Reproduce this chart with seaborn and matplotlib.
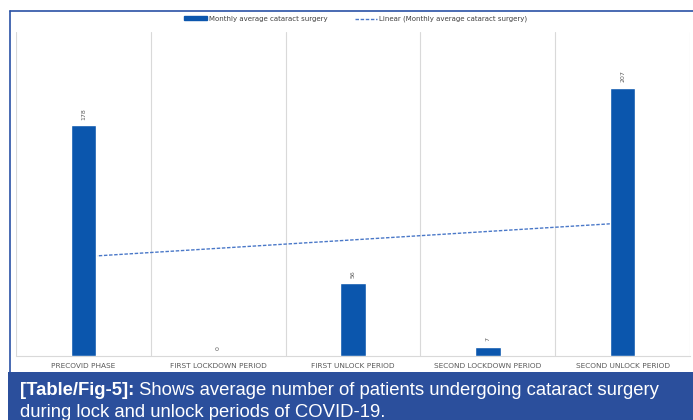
import numpy as np
import pandas as pd
import matplotlib
matplotlib.use("Agg")
import matplotlib.pyplot as plt
from matplotlib.patches import Patch, Rectangle
from matplotlib.lines import Line2D
import seaborn as sns

categories = ["PRECOVID PHASE", "FIRST LOCKDOWN PERIOD", "FIRST UNLOCK PERIOD",
              "SECOND LOCKDOWN PERIOD", "SECOND UNLOCK PERIOD"]
values = [178, 0, 56, 7, 207]
series_name = "Monthly average cataract surgery"
trend_name = "Linear (Monthly average cataract surgery)"
caption_bold = "[Table/Fig-5]:"
caption_rest = " Shows average number of patients undergoing cataract surgery"
caption_line2 = "during lock and unlock periods of COVID-19."

BAR = "#0b56ad"
TREND = "#4a78c8"
FRAME = "#2a52a5"
BOX = "#2b4f9c"
GREY = "#595959"

sns.set_theme(style="white")
plt.rcParams["font.family"] = ["DejaVu Sans"]

W, H = 693, 420
fig = plt.figure(figsize=(W / 100, H / 100), dpi=100)

def fx(px):
    return px / W

def fy(py):
    return 1 - py / H

ax = fig.add_axes([fx(16), fy(356), fx(690) - fx(16), fy(32) - fy(356)])
df = pd.DataFrame({"cat": categories, "val": values})
sns.barplot(data=df, x="cat", y="val", color=BAR, width=0.19, saturation=1,
            ax=ax, zorder=3)
for c in ax.containers:
    ax.bar_label(c, labels=[str(v) for v in values], rotation=90, padding=4,
                 fontsize=4.5, color=GREY)

pos = np.arange(len(values))
coef = np.polyfit(pos, values, 1)
ax.plot(pos, np.polyval(coef, pos), color=TREND, lw=1.0, ls=(0, (2.5, 1.2)), zorder=2)

ax.set_xlim(-0.5, len(values) - 0.5)
ax.set_ylim(0, 250)
ax.set_yticks([])
ax.set_xticks(np.arange(-0.5, len(values), 1), minor=True)
ax.grid(which="minor", axis="x", color="#d9d9d9", lw=0.8)
ax.tick_params(axis="x", which="both", length=0, pad=5)
ax.set_xticks(pos)
ax.set_xticklabels(categories, fontsize=5.3, color=GREY)
ax.set_xlabel("")
ax.set_ylabel("")
for s in ["top", "left", "right"]:
    ax.spines[s].set_visible(False)
ax.spines["bottom"].set_color("#d9d9d9")
ax.spines["bottom"].set_linewidth(0.8)

handles = [Patch(facecolor=BAR, edgecolor=BAR),
           Line2D([0], [0], color=TREND, lw=1.0, ls=(0, (2.5, 1.2)))]
fig.legend(handles, [series_name, trend_name], loc="center",
           bbox_to_anchor=(fx(356), fy(19)), ncol=2, frameon=False,
           fontsize=5, labelcolor="#404040", handlelength=3.2, handleheight=0.5,
           columnspacing=4, handletextpad=0.3)

# outer frame lines
fig.add_artist(Line2D([fx(10), 1], [fy(11), fy(11)], color=FRAME, lw=1.2))
fig.add_artist(Line2D([fx(10), fx(10)], [fy(11), fy(372)], color=FRAME, lw=1.2))

# caption box
fig.add_artist(Rectangle((fx(8), 0), 1 - fx(8), fy(372), facecolor=BOX,
                         edgecolor="none", transform=fig.transFigure))
cfont = ["Liberation Sans", "DejaVu Sans"]
CS = 13.3
t1 = fig.text(fx(20), fy(395), caption_bold, color="white", fontsize=CS,
              fontweight="bold", family=cfont, va="baseline")
fig.canvas.draw()
bb = t1.get_window_extent()
fig.text(bb.x1 / W, fy(395), caption_rest, color="white", fontsize=CS,
         family=cfont, va="baseline")
fig.text(fx(20), fy(417), caption_line2, color="white", fontsize=CS,
         family=cfont, va="baseline")

fig.savefig("out.png", dpi=100)
